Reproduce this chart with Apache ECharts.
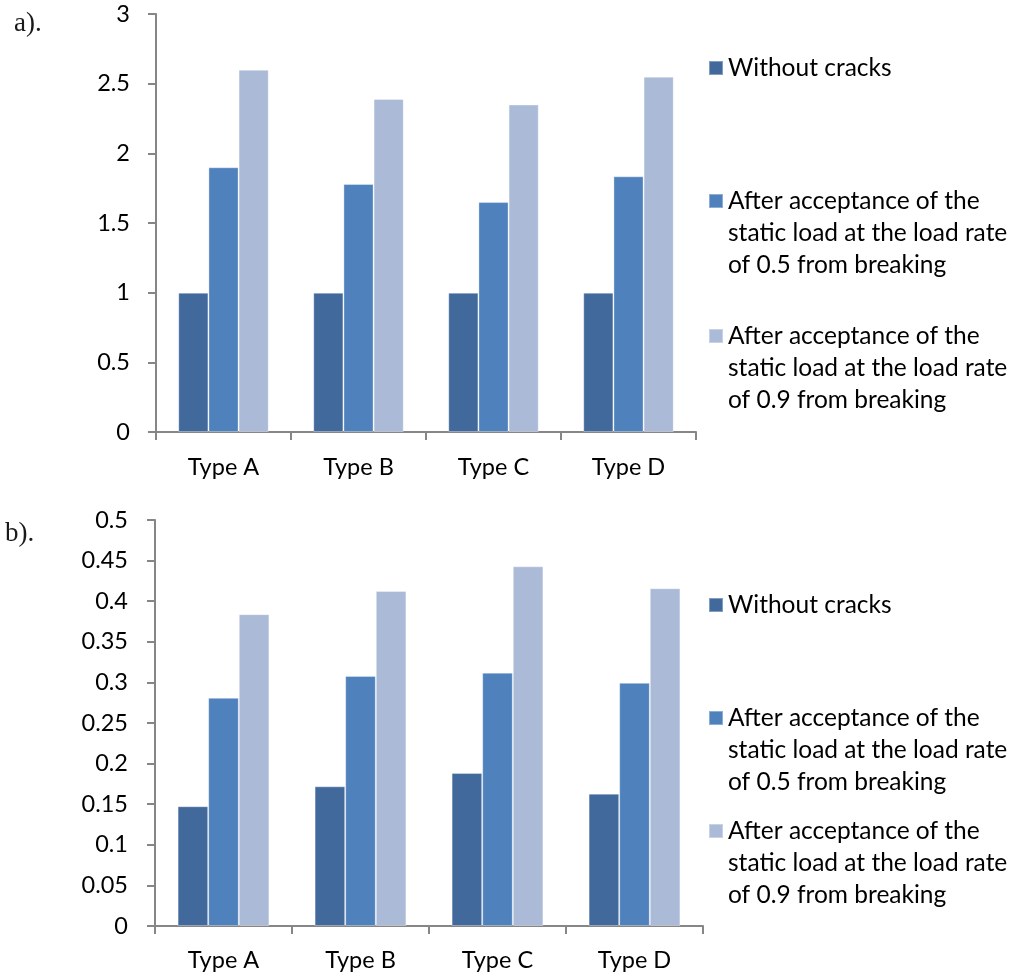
<!DOCTYPE html>
<html>
<head>
<meta charset="utf-8">
<script src="https://cdn.jsdelivr.net/npm/echarts@6/dist/echarts.min.js"></script>
<style>
html,body{margin:0;padding:0;background:#fff;}
#chart{width:1022px;height:976px;}
</style>
</head>
<body>
<div id="chart"></div>
<script>
const categories = ['Type A', 'Type B', 'Type C', 'Type D'];
const seriesNames = [
  'Without cracks',
  'After acceptance of the\nstatic load at the load rate\nof 0.5 from breaking',
  'After acceptance of the\nstatic load at the load rate\nof 0.9 from breaking'
];
const chartA_without = [1, 1, 1, 1];
const chartA_load05 = [1.90, 1.78, 1.65, 1.835];
const chartA_load09 = [2.60, 2.39, 2.35, 2.55];
const chartB_without = [0.1475, 0.172, 0.1885, 0.163];
const chartB_load05 = [0.281, 0.308, 0.312, 0.2995];
const chartB_load09 = [0.384, 0.4125, 0.443, 0.416];
const yTicksA = { min: 0, max: 3, interval: 0.5 };
const yTicksB = { min: 0, max: 0.5, interval: 0.05 };

const colors = ['#41699C', '#4F81BD', '#AABAD7'];
const FONT = 'Lato';
const axisColor = '#868686';

function xAxis(gridIndex, margin) {
  return {
    type: 'category', gridIndex, data: categories,
    axisLine: { lineStyle: { color: axisColor, width: 2 } },
    axisTick: { show: true, length: 8, alignWithLabel: false, lineStyle: { color: axisColor, width: 2 } },
    axisLabel: { color: '#000', fontSize: 23.5, fontFamily: FONT, margin }
  };
}
function yAxis(gridIndex, t, margin) {
  return {
    type: 'value', gridIndex, min: t.min, max: t.max, interval: t.interval,
    axisLine: { show: true, lineStyle: { color: axisColor, width: 2 } },
    axisTick: { show: true, length: 8, lineStyle: { color: axisColor, width: 2 } },
    splitLine: { show: false },
    axisLabel: { color: '#000', fontSize: 23.5, fontFamily: FONT, margin }
  };
}
function bar(name, data, idx, gi) {
  return {
    type: 'bar', name, data, xAxisIndex: gi, yAxisIndex: gi,
    barGap: '0%', barCategoryGap: '33%',
    itemStyle: { color: colors[idx], borderColor: 'rgba(255,255,255,0.35)', borderWidth: 1 },
    emphasis: { disabled: true }
  };
}
function legend(name, top, multi) {
  return {
    data: [name], left: 708, top, padding: 0, itemWidth: 14, itemHeight: 14, icon: 'rect',
    selectedMode: false,
    formatter: n => (multi ? '\n\n' : '') + n,
    textStyle: { color: '#000', fontSize: 24.5, fontFamily: FONT, lineHeight: 32 }
  };
}

const chart = echarts.init(document.getElementById('chart'));
chart.setOption({
  animation: false,
  title: [
    { text: 'a).', left: 14, top: 10, padding: 0, textStyle: { fontFamily: 'Liberation Serif', fontWeight: 'normal', fontSize: 27, color: '#1a1a1a' } },
    { text: 'b).', left: 5, top: 520, padding: 0, textStyle: { fontFamily: 'Liberation Serif', fontWeight: 'normal', fontSize: 27, color: '#1a1a1a' } }
  ],
  grid: [
    { left: 156, top: 14, width: 540, height: 418 },
    { left: 155, top: 520, width: 548, height: 406 }
  ],
  xAxis: [xAxis(0, 23), xAxis(1, 22)],
  yAxis: [yAxis(0, yTicksA, 26), yAxis(1, yTicksB, 27)],
  legend: [
    legend(seriesNames[0], 68 - 16, false),
    legend(seriesNames[1], 201 - 80, true),
    legend(seriesNames[2], 336 - 80, true),
    legend(seriesNames[0], 605 - 16, false),
    legend(seriesNames[1], 718 - 80, true),
    legend(seriesNames[2], 831 - 80, true)
  ],
  series: [
    bar(seriesNames[0], chartA_without, 0, 0),
    bar(seriesNames[1], chartA_load05, 1, 0),
    bar(seriesNames[2], chartA_load09, 2, 0),
    bar(seriesNames[0], chartB_without, 0, 1),
    bar(seriesNames[1], chartB_load05, 1, 1),
    bar(seriesNames[2], chartB_load09, 2, 1)
  ]
});
</script>
</body>
</html>
